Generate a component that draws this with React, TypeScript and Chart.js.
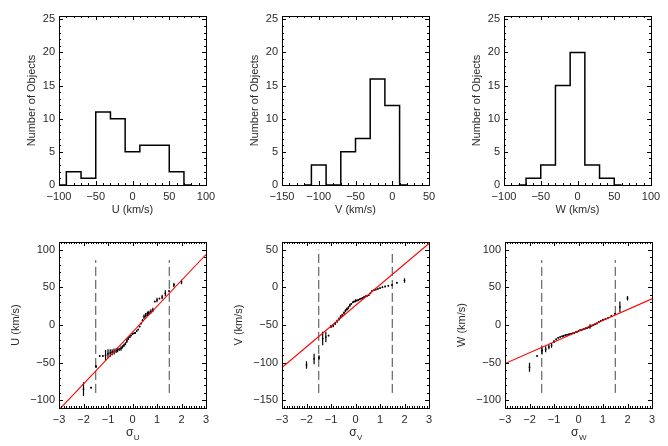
import React, { useEffect, useRef } from 'react';
import { Chart, registerables } from 'chart.js';
Chart.register(...registerables);

const W = 668;
const H = 446;
const FONT = '"Liberation Sans", Arial, Helvetica, sans-serif';
const TXT = '#2a2a2a';

// ---------- histogram data (bin centres, counts) ----------
const uCenters = [-100, -80, -60, -40, -20, 0, 20, 40, 60, 80];
const uCounts = [0, 2, 1, 11, 10, 5, 6, 6, 2, 0];
const vCenters = [-120, -100, -80, -60, -40, -20, 0, 20];
const vCounts = [0, 3, 0, 5, 7, 16, 12, 0];
const wCenters = [-80, -60, -40, -20, 0, 20, 40, 60];
const wCounts = [0, 1, 3, 15, 20, 3, 1, 0];

const histYTicks = [0, 5, 10, 15, 20, 25];
const uHistXTicks = [-100, -50, 0, 50, 100];
const vHistXTicks = [-150, -100, -50, 0, 50];
const wHistXTicks = [-100, -50, 0, 50, 100];

// ---------- probability plots ----------
const sigmaQ = [-2.0, -1.69, -1.49, -1.34, -1.21, -1.1, -1.0, -0.91, -0.83, -0.75, -0.67, -0.61, -0.54, -0.47, -0.41, -0.35, -0.29, -0.23, -0.17, -0.11, -0.06, 0, 0.06, 0.11, 0.17, 0.23, 0.29, 0.35, 0.41, 0.47, 0.54, 0.61, 0.67, 0.75, 0.83, 0.91, 1.0, 1.1, 1.21, 1.34, 1.49, 1.69, 2.0];

const uSorted = [-85, -83, -55, -41, -41, -40, -38, -37, -36, -35, -34, -33, -32, -31, -29, -27, -25, -21, -18, -16, -14, -12, -11, -10.5, -8, -6, -2, 2, 6, 11, 13, 15, 16, 18, 20, 31, 33, 35, 37, 42, 45, 53, 57];
const uErr = [9, 1, 2, 1, 1, 7, 6, 5, 4, 4, 3, 3, 2, 3, 2, 2, 2, 3, 2, 1, 1, 1, 1, 1, 1, 1, 1, 1, 2, 3, 3, 3, 3, 3, 3, 1, 3, 1, 3, 4, 1, 3, 3];
const vSorted = [-103, -95, -93, -68, -66, -64, -52, -51, -48, -45, -42, -39, -37, -34, -31, -29, -27, -24, -22, -20, -19, -18, -17.5, -17, -16, -15, -14, -13, -12, -11.5, -10.5, -8, -5, -4, -3, -2, -1, 0, 1, 2, 3, 6, 9];
const vErr = [5, 7, 3, 9, 7, 1, 2, 2, 2, 2, 2, 2, 2, 2, 2, 2, 2, 2, 1, 1, 1, 2, 1, 1, 1, 1, 1, 1, 1, 1, 1, 1, 1, 1, 1, 1, 1, 1, 1, 1, 1, 1, 3];
const wSorted = [-56, -41, -34, -32, -29, -27, -22, -19, -17, -16, -15, -14.5, -13.5, -13, -12.5, -12, -11.5, -11, -10.5, -9.5, -9, -8, -7, -6.5, -6, -5, -4.5, -4, -3, -2, -1, 0, 1, 2, 4, 5.5, 7, 8, 9.5, 12, 15, 24, 35.5];
const wErr = [6, 1, 5, 4, 3, 3, 2, 1, 1, 1, 1, 1, 1, 1, 1, 1, 1, 1, 1, 1, 1, 1, 1, 1, 1, 1, 1, 1, 1, 3, 1, 1, 1, 1, 1, 1, 1, 1, 1, 1, 1, 7, 3];

// fitted line values at sigma = -3 and +3
const fitSigma = [-3, 3];
const uFit = [-112.4, 93.4];
const vFit = [-106.4, 58];
const wFit = [-51, 34.7];

// vertical dashed markers at +-1.5 sigma: [low, high]
const dashSigma = [-1.5, 1.5];
const uDash = [-90, 86];
const vDash = [-140, 50];
const wDash = [-90, 86];

const probXTicks = [-3, -2, -1, 0, 1, 2, 3];
const uProbYTicks = [-100, -50, 0, 50, 100];
const vProbYTicks = [-150, -100, -50, 0, 50];
const wProbYTicks = [-100, -50, 0, 50, 100];

// ---------- layout ----------
const YW = 50;
const XH = 20;
const COLS_TOP = [[59, 206], [282, 429], [504, 651]];
const COLS_BOT = [[59, 206], [282, 429], [505, 652]];
const TOP_ROW = [16, 185];
const BOT_ROW = [242, 408];

const fmt = (v: number) => String(v).replace('-', '\u2212');

const framePlugin = {
  id: 'idlframe',
  afterDraw(chart: any, _args: any, opts: any) {
    const { ctx, chartArea: a, scales } = chart;
    const xs = scales.x;
    const ys = scales.y;
    ctx.save();
    ctx.strokeStyle = '#000';
    ctx.lineWidth = 1;
    ctx.strokeRect(a.left + 0.5, a.top + 0.5, a.right - a.left, a.bottom - a.top);
    const maj = 4;
    const mnr = 2;
    const drawX = (step: number, len: number) => {
      const k0 = Math.ceil(xs.min / step - 1e-6);
      const k1 = Math.floor(xs.max / step + 1e-6);
      for (let k = k0; k <= k1; k++) {
        const px = Math.round(xs.getPixelForValue(k * step)) + 0.5;
        ctx.beginPath();
        ctx.moveTo(px, a.bottom);
        ctx.lineTo(px, a.bottom - len);
        ctx.moveTo(px, a.top);
        ctx.lineTo(px, a.top + len);
        ctx.stroke();
      }
    };
    const drawY = (step: number, len: number) => {
      const k0 = Math.ceil(ys.min / step - 1e-6);
      const k1 = Math.floor(ys.max / step + 1e-6);
      for (let k = k0; k <= k1; k++) {
        const py = Math.round(ys.getPixelForValue(k * step)) + 0.5;
        ctx.beginPath();
        ctx.moveTo(a.left, py);
        ctx.lineTo(a.left + len, py);
        ctx.moveTo(a.right, py);
        ctx.lineTo(a.right - len, py);
        ctx.stroke();
      }
    };
    drawX(opts.xMinor, mnr);
    drawX(opts.xMajor, maj);
    drawY(opts.yMinor, mnr);
    drawY(opts.yMajor, maj);

    ctx.fillStyle = TXT;
    ctx.textBaseline = 'middle';
    // y title
    ctx.save();
    ctx.font = `11px ${FONT}`;
    ctx.translate(a.left - opts.yTitleOff, (a.top + a.bottom) / 2);
    ctx.rotate(-Math.PI / 2);
    ctx.textAlign = 'center';
    ctx.fillText(opts.yTitle, 0, 0);
    ctx.restore();
    // x title
    const cx = (a.left + a.right) / 2;
    if (opts.sub) {
      ctx.font = `12px ${FONT}`;
      const w1 = ctx.measureText(opts.xTitle).width;
      ctx.font = `8px ${FONT}`;
      const w2 = ctx.measureText(opts.sub).width;
      const x0 = cx - (w1 + w2) / 2;
      ctx.textAlign = 'left';
      ctx.font = `12px ${FONT}`;
      ctx.fillText(opts.xTitle, x0, a.bottom + opts.xTitleOff);
      ctx.font = `8px ${FONT}`;
      ctx.fillText(opts.sub, x0 + w1 + 0.5, a.bottom + opts.xTitleOff + 5);
    } else {
      ctx.font = `11px ${FONT}`;
      ctx.textAlign = 'center';
      ctx.fillText(opts.xTitle, cx, a.bottom + opts.xTitleOff);
    }
    ctx.restore();
  },
};

function axis(min: number, max: number, ticks: number[], isX: boolean) {
  return {
    type: 'linear',
    min,
    max,
    afterBuildTicks: (s: any) => {
      s.ticks = ticks.map((v) => ({ value: v }));
    },
    afterFit: (s: any) => {
      if (isX) s.height = XH;
      else s.width = YW;
    },
    grid: { display: false, drawTicks: false, tickLength: 0 },
    border: { display: false },
    ticks: {
      padding: isX ? 5 : 4,
      color: TXT,
      font: { family: FONT, size: 11 },
      maxRotation: 0,
      minRotation: 0,
      autoSkip: false,
      callback: (v: number) => fmt(v),
    },
  };
}

function padFor(col: number[], row: number[]) {
  return {
    left: col[0] - YW,
    right: W - col[1],
    top: row[0],
    bottom: H - row[1] - XH,
  };
}

function histConfig(col: number[], centers: number[], counts: number[], xMin: number, xMax: number, xTicks: number[], xTitle: string) {
  return {
    type: 'line',
    data: {
      datasets: [
        {
          data: centers.map((c, i) => ({ x: c, y: counts[i] })),
          stepped: 'middle',
          borderColor: '#000',
          borderWidth: 1.5,
          pointRadius: 0,
          fill: false,
        },
      ],
    },
    options: {
      responsive: false,
      animation: false,
      events: [],
      layout: { padding: padFor(col, TOP_ROW) },
      plugins: {
        legend: { display: false },
        tooltip: { enabled: false },
        idlframe: { xMajor: 50, xMinor: 10, yMajor: 5, yMinor: 1, yTitle: 'Number of Objects', yTitleOff: 27, xTitle, xTitleOff: 24.5 },
      },
      scales: {
        x: axis(xMin, xMax, xTicks, true),
        y: axis(0, 25.5, histYTicks, false),
      },
    },
    plugins: [framePlugin],
  };
}

function probConfig(col: number[], sorted: number[], err: number[], fit: number[], dash: number[], yMin: number, yMax: number, yTicks: number[], yTitle: string, sub: string) {
  const bars: any[] = [];
  sorted.forEach((v, i) => {
    bars.push({ x: sigmaQ[i], y: v - err[i] });
    bars.push({ x: sigmaQ[i], y: v + err[i] });
    bars.push({ x: sigmaQ[i], y: null });
  });
  const dashes: any[] = [];
  dashSigma.forEach((s) => {
    dashes.push({ x: s, y: dash[0] });
    dashes.push({ x: s, y: dash[1] });
    dashes.push({ x: s, y: null });
  });
  return {
    type: 'line',
    data: {
      datasets: [
        {
          data: fitSigma.map((s, i) => ({ x: s, y: fit[i] })),
          borderColor: '#ff0000',
          borderWidth: 1.1,
          pointRadius: 0,
        },
        {
          data: sorted.map((v, i) => ({ x: sigmaQ[i], y: v })),
          showLine: false,
          pointRadius: 0.9,
          pointBorderWidth: 0,
          pointBackgroundColor: '#000',
        },
        {
          data: bars,
          borderColor: '#000',
          borderWidth: 1.2,
          pointRadius: 0,
          spanGaps: false,
        },
        {
          data: dashes,
          borderColor: '#444',
          borderWidth: 1,
          borderDash: [9, 4],
          pointRadius: 0,
          spanGaps: false,
        },
      ],
    },
    options: {
      responsive: false,
      animation: false,
      events: [],
      layout: { padding: padFor(col, BOT_ROW) },
      plugins: {
        legend: { display: false },
        tooltip: { enabled: false },
        idlframe: { xMajor: 1, xMinor: 0.1, yMajor: 50, yMinor: 10, yTitle, yTitleOff: 43, xTitle: '\u03c3', sub, xTitleOff: 25 },
      },
      scales: {
        x: axis(-3, 3, probXTicks, true),
        y: axis(yMin, yMax, yTicks, false),
      },
    },
    plugins: [framePlugin],
  };
}

function Panel({ make }: { make: () => any }) {
  const ref = useRef<HTMLCanvasElement | null>(null);
  useEffect(() => {
    const chart = new Chart(ref.current as HTMLCanvasElement, make());
    return () => chart.destroy();
  }, []);
  return (
    <canvas
      ref={ref}
      width={W}
      height={H}
      style={{ position: 'absolute', left: 0, top: 0, width: W, height: H }}
    />
  );
}

export default function App() {
  const makers = [
    () => histConfig(COLS_TOP[0], uCenters, uCounts, -100, 100, uHistXTicks, 'U (km/s)'),
    () => histConfig(COLS_TOP[1], vCenters, vCounts, -150, 50, vHistXTicks, 'V (km/s)'),
    () => histConfig(COLS_TOP[2], wCenters, wCounts, -100, 100, wHistXTicks, 'W (km/s)'),
    () => probConfig(COLS_BOT[0], uSorted, uErr, uFit, uDash, -110, 110, uProbYTicks, 'U (km/s)', 'U'),
    () => probConfig(COLS_BOT[1], vSorted, vErr, vFit, vDash, -160, 60, vProbYTicks, 'V (km/s)', 'V'),
    () => probConfig(COLS_BOT[2], wSorted, wErr, wFit, wDash, -110, 110, wProbYTicks, 'W (km/s)', 'W'),
  ];
  return (
    <div style={{ position: 'absolute', left: 0, top: 0, width: W, height: H, background: '#fff' }}>
      {makers.map((m, i) => (
        <Panel key={i} make={m} />
      ))}
    </div>
  );
}
